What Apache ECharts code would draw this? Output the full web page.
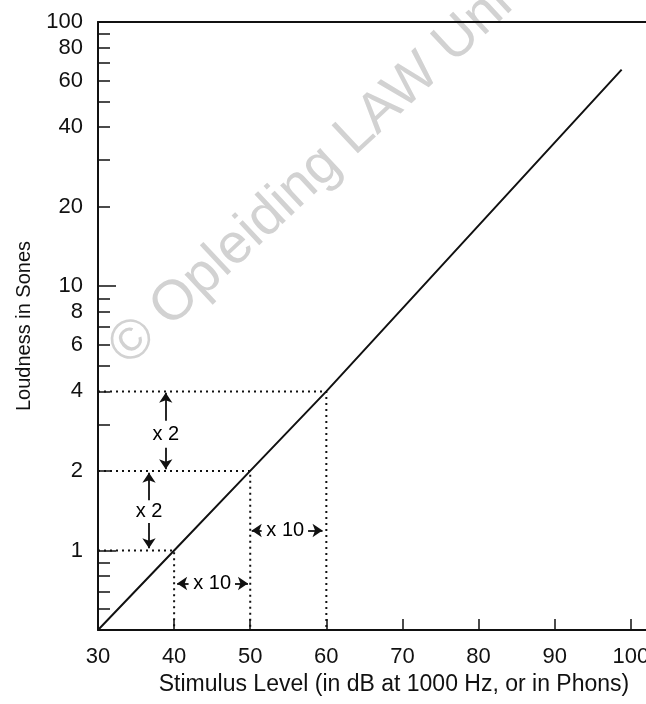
<!DOCTYPE html>
<html>
<head>
<meta charset="utf-8">
<script src="https://cdn.jsdelivr.net/npm/echarts@6/dist/echarts.min.js"></script>
<style>
  html, body { margin: 0; padding: 0; background: #fff; }
  #chart { width: 646px; height: 704px; }
</style>
</head>
<body>
<div id="chart"></div>
<script>
// loudness curve: stimulus level (phons) -> loudness (sones)
const curveX = [30, 40, 50, 60, 98.8];
const curveY = [0.5, 1, 2, 4, 66];

// dotted guides from the y axis over to the curve and down to the x axis
const guideLevels = [40, 50, 60];
const guideSones = [1, 2, 4];

const xTicks = [30, 40, 50, 60, 70, 80, 90, 100];
const yLabels = [1, 2, 4, 6, 8, 10, 20, 40, 60, 80, 100];
const yTicks = [0.6, 0.7, 0.8, 0.9, 1, 2, 3, 4, 5, 6, 7, 8, 9, 10, 20, 30, 40, 50, 60, 70, 80, 90, 100];
const yLongTicks = [1, 10];

// annotation arrows: [x1, y1, x2, y2], head at the second point
const arrowSegs = [
  [38.9, 3.1, 38.9, 3.95],
  [38.9, 2.45, 38.9, 2.03],
  [36.7, 1.55, 36.7, 1.97],
  [36.7, 1.27, 36.7, 1.02],
  [41.9, 0.75, 40.4, 0.75],
  [48.0, 0.75, 49.7, 0.75],
  [51.5, 1.19, 50.2, 1.19],
  [57.6, 1.19, 59.5, 1.19]
];
const noteX = [38.9, 36.7, 45.0, 54.6];
const noteY = [2.75, 1.4, 0.75, 1.19];
const noteText = ['x 2', 'x 2', 'x 10', 'x 10'];

const ink = '#111';
const chart = echarts.init(document.getElementById('chart'));

const guideSeries = guideLevels.map((lv, i) => ({
  type: 'line',
  data: [[30, guideSones[i]], [lv, guideSones[i]], [lv, 0.5]],
  symbol: 'none',
  silent: true,
  lineStyle: { color: ink, width: 2, type: [2, 4] }
}));

chart.setOption({
  animation: false,
  textStyle: { fontFamily: 'Liberation Sans, Arial, sans-serif' },
  grid: { left: 98, right: 0, top: 22, bottom: 74, outerBoundsMode: 'none', containLabel: false },
  graphic: [{
    type: 'text',
    x: 118, y: 356,
    rotation: 43 * Math.PI / 180,
    silent: true,
    z: -10,
    style: {
      text: '\u00a9 Opleiding LAW Univ',
      fill: '#d2d2d2',
      font: '56px "Liberation Sans", sans-serif',
      textVerticalAlign: 'middle'
    }
  }],
  xAxis: [{
    type: 'value',
    min: 30, max: 102,
    name: 'Stimulus Level (in dB at 1000 Hz, or in Phons)',
    nameLocation: 'middle',
    nameGap: 43,
    nameTextStyle: { fontSize: 23, color: ink, padding: [0, 0, 0, 44] },
    axisLine: { lineStyle: { color: ink, width: 2 } },
    axisTick: { inside: true, length: 11, customValues: xTicks, lineStyle: { color: ink, width: 1.5 } },
    axisLabel: { customValues: xTicks, fontSize: 22, color: ink, margin: 16 },
    splitLine: { show: false }
  }, {
    type: 'value',
    position: 'top',
    min: 30, max: 102,
    axisLine: { lineStyle: { color: ink, width: 2 } },
    axisTick: { show: false },
    axisLabel: { show: false },
    splitLine: { show: false }
  }],
  yAxis: [{
    type: 'log',
    logBase: 10,
    min: 0.5, max: 100,
    name: 'Loudness in Sones',
    nameLocation: 'middle',
    nameGap: 64,
    nameTextStyle: { fontSize: 20, color: ink },
    axisLine: { lineStyle: { color: ink, width: 2 } },
    axisTick: { inside: true, length: 12, customValues: yTicks, lineStyle: { color: ink, width: 1.5 } },
    axisLabel: { customValues: yLabels, fontSize: 22, color: ink, margin: 15 },
    splitLine: { show: false }
  }, {
    type: 'log',
    logBase: 10,
    min: 0.5, max: 100,
    position: 'left',
    axisLine: { show: false },
    axisTick: { inside: true, length: 18, customValues: yLongTicks, lineStyle: { color: ink, width: 1.5 } },
    axisLabel: { show: false },
    splitLine: { show: false }
  }],
  series: [
    {
      type: 'line',
      data: curveX.map((x, i) => [x, curveY[i]]),
      symbol: 'none',
      lineStyle: { color: ink, width: 2 }
    },
    ...guideSeries,
    {
      type: 'lines',
      coordinateSystem: 'cartesian2d',
      symbol: ['none', 'arrow'],
      symbolSize: [7, 10],
      lineStyle: { color: ink, width: 1.8, opacity: 1 },
      data: arrowSegs.map(s => ({ coords: [[s[0], s[1]], [s[2], s[3]]] }))
    },
    {
      type: 'scatter',
      symbolSize: 1,
      itemStyle: { color: 'transparent' },
      data: noteX.map((x, i) => [x, noteY[i], noteText[i]]),
      label: {
        show: true,
        position: 'inside',
        formatter: p => p.value[2],
        fontSize: 20,
        color: '#000',
        opacity: 1
      }
    }
  ]
});
</script>
</body>
</html>
